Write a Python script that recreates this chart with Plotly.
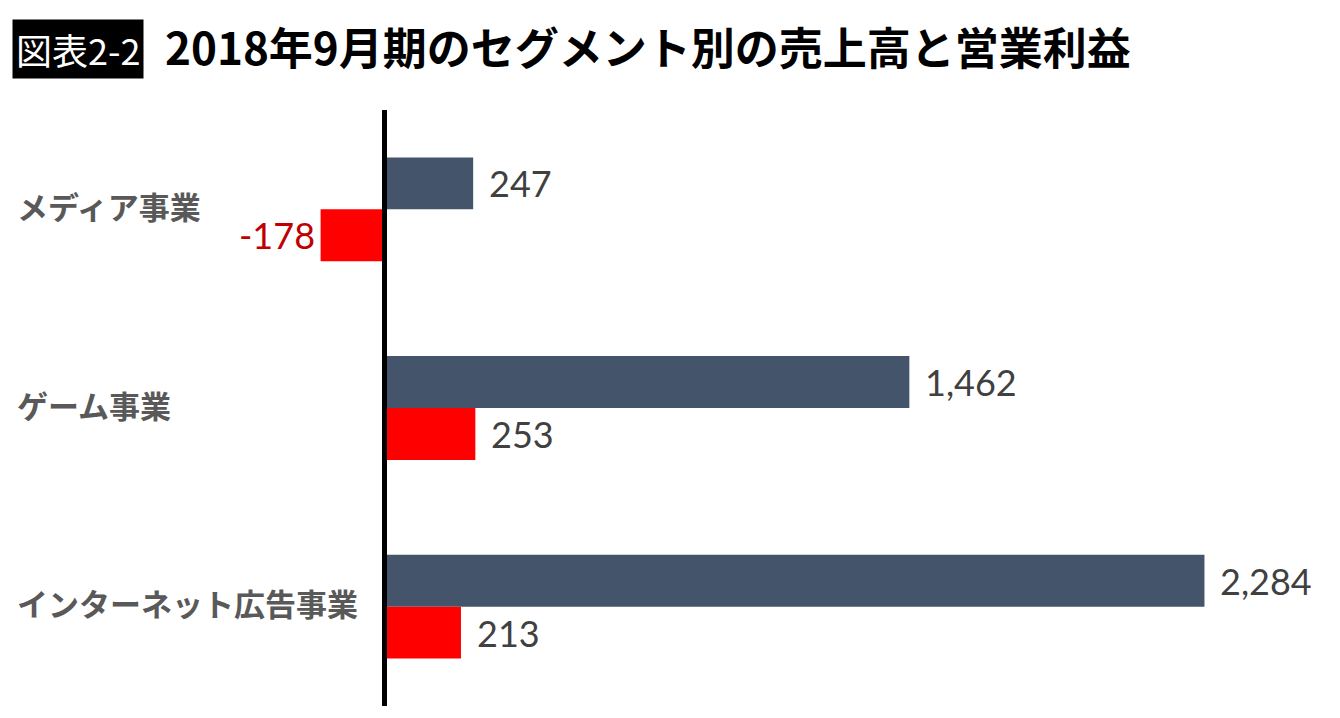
import plotly.graph_objects as go

categories = ["メディア事業", "ゲーム事業", "インターネット広告事業"]
sales = [247, 1462, 2284]
profit = [-178, 253, 213]
badge = "図表2-2"
title = "2018年9月期のセグメント別の売上高と営業利益"

OFF = 8  # default page body margin
W, H = 1340 - 2 * OFF, 718 - 2 * OFF
L, R, T, B = 15 - OFF, 0, 110 - OFF, 12 - OFF
PW, PH = W - L - R, H - T - B
ZERO_PX, SCALE = 384.5 - OFF, 0.359
xmin = -(ZERO_PX - L) / SCALE
xmax = xmin + PW / SCALE

def px_x(p):
    return (p - OFF - L) / PW

def px_y(p):
    return 1 - (p - OFF - T) / PH

NAVY, RED = "#44546a", "#ff0000"
CJK = "Noto Sans CJK JP"
NUMF = "Lato"

fig = go.Figure()
fig.add_trace(go.Bar(y=categories, x=sales, orientation="h", marker=dict(color=NAVY, line=dict(width=0)),
                     name="売上高", hoverinfo="x+y"))
fig.add_trace(go.Bar(y=categories, x=profit, orientation="h", marker=dict(color=RED, line=dict(width=0)),
                     name="営業利益", hoverinfo="x+y"))

ann = []
for c, s, p in zip(categories, sales, profit):
    ann.append(dict(x=s, y=c, xref="x", yref="y", text=f"{s:,}", showarrow=False,
                    xanchor="left" if s >= 0 else "right", xshift=14 if s >= 0 else -6, yshift=26,
                    font=dict(family=NUMF, size=36, color="#404040")))
    neg = p < 0
    ann.append(dict(x=p, y=c, xref="x", yref="y", text=f"{p:,}", showarrow=False,
                    xanchor="right" if neg else "left", xshift=-4 if neg else 14, yshift=-26,
                    font=dict(family=NUMF, size=36, color="#c00000" if neg else "#404040")))
    ann.append(dict(x=0, y=c, xref="paper", yref="y", text=f"<b>{c}</b>", showarrow=False,
                    xanchor="left", yshift=4,
                    font=dict(family=CJK, size=31, color="#595959")))

ann.append(dict(x=px_x(12), y=px_y(49), xref="paper", yref="paper", text=badge, showarrow=False,
                xanchor="left", yanchor="middle", bgcolor="#000000", borderpad=3,
                font=dict(family=CJK, size=36, color="#ffffff")))
ann.append(dict(x=px_x(163), y=px_y(46), xref="paper", yref="paper", text=f"<b>{title}</b>", showarrow=False,
                xanchor="left", yanchor="middle",
                font=dict(family=CJK, size=44, color="#000000")))

fig.update_layout(
    width=W, height=H,
    margin=dict(l=L, r=R, t=T, b=B),
    paper_bgcolor="white", plot_bgcolor="white",
    barmode="group", bargap=0.477, bargroupgap=0,
    showlegend=False,
    annotations=ann,
    shapes=[dict(type="line", xref="x", yref="paper", x0=0, x1=0, y0=0, y1=1,
                 line=dict(color="#000000", width=5), layer="above")],
    xaxis=dict(range=[xmin, xmax], visible=False, showgrid=False, zeroline=False),
    yaxis=dict(autorange="reversed", showticklabels=False, showgrid=False, zeroline=False, ticks=""),
)

fig.write_html("out.html")
